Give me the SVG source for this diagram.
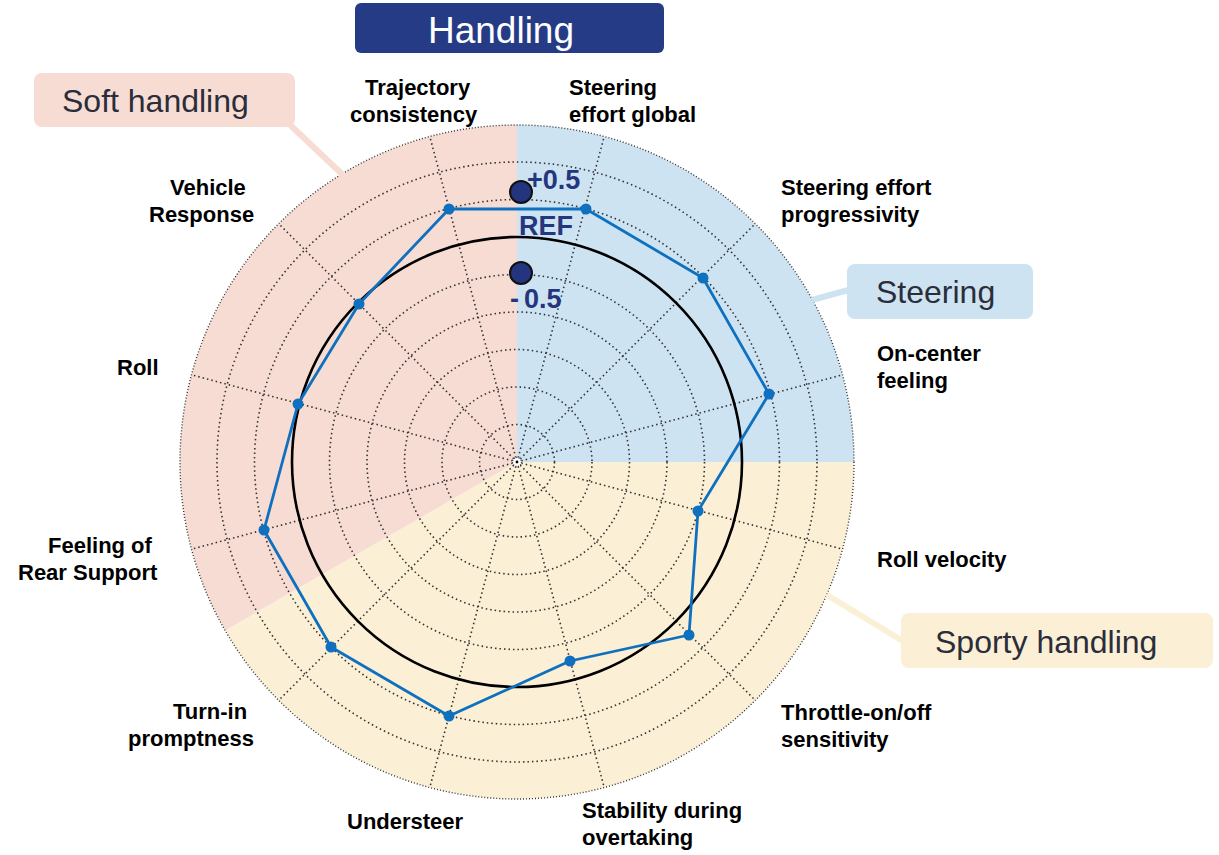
<svg xmlns="http://www.w3.org/2000/svg" width="1219" height="855" viewBox="0 0 1219 855">
<style>
.lbl{font-family:"Liberation Sans",Arial,sans-serif;font-weight:bold;font-size:22px;fill:#000}
.tag{font-family:"Liberation Sans",Arial,sans-serif;font-size:32px;fill:#2B2D3A}
.grid{fill:none;stroke:#333;stroke-width:1.6;stroke-dasharray:1.5 3}
.outer{fill:none;stroke:#333;stroke-width:1.4;stroke-dasharray:1 2}
.val{font-family:"Liberation Sans",Arial,sans-serif;font-weight:bold;font-size:27px;fill:#25367F}
.mk{fill:#0E70BE}
.ref{fill:#24357F;stroke:#111;stroke-width:2}
</style>
<rect width="1219" height="855" fill="#fff"/>
<g id="sectors">
<path d="M517,462 L517,125 A337,337 0 0 1 854,462 Z" fill="#CDE3F2"/>
<path d="M517,462 L854,462 A337,337 0 0 1 225.2,630.5 Z" fill="#FBEFD5"/>
<path d="M517,462 L225.2,630.5 A337,337 0 0 1 517,125 Z" fill="#F7DCD3"/>
</g>
<g id="grid">
<circle class="grid" cx="517" cy="462" r="37.5"/>
<circle class="grid" cx="517" cy="462" r="75"/>
<circle class="grid" cx="517" cy="462" r="112.5"/>
<circle class="grid" cx="517" cy="462" r="150"/>
<circle class="grid" cx="517" cy="462" r="187.5"/>
<circle class="grid" cx="517" cy="462" r="225"/>
<circle class="grid" cx="517" cy="462" r="262.5"/>
<circle class="grid" cx="517" cy="462" r="300"/>
<circle class="outer" cx="517" cy="462" r="337"/>
<g class="grid">
<line x1="517" y1="462" x2="604.2" y2="136.5"/>
<line x1="517" y1="462" x2="755.3" y2="223.7"/>
<line x1="517" y1="462" x2="842.5" y2="374.8"/>
<line x1="517" y1="462" x2="842.5" y2="549.2"/>
<line x1="517" y1="462" x2="755.3" y2="700.3"/>
<line x1="517" y1="462" x2="604.2" y2="787.5"/>
<line x1="517" y1="462" x2="429.8" y2="787.5"/>
<line x1="517" y1="462" x2="278.7" y2="700.3"/>
<line x1="517" y1="462" x2="191.5" y2="549.2"/>
<line x1="517" y1="462" x2="191.5" y2="374.8"/>
<line x1="517" y1="462" x2="278.7" y2="223.7"/>
<line x1="517" y1="462" x2="429.8" y2="136.5"/>
</g>
<circle cx="517" cy="462" r="4.5" fill="#fff" stroke="#333" stroke-width="1.2" stroke-dasharray="1 1.5"/>
<circle cx="517" cy="462" r="1.4" fill="#000"/>
</g>
<circle id="ref-circle" cx="517" cy="462" r="225" fill="none" stroke="#000" stroke-width="2.6"/>
<g id="connectors" stroke-width="6" fill="none">
<line x1="286" y1="121" x2="343" y2="175" stroke="#F7DCD3"/>
<line x1="852" y1="289" x2="812" y2="300" stroke="#CDE3F2"/>
<line x1="906" y1="643" x2="827" y2="595" stroke="#FBEFD5"/>
</g>
<g id="title">
<rect x="355" y="3" width="309" height="50" rx="6" fill="#263B86"/>
<text x="501" y="43" font-family="Liberation Sans, Arial, sans-serif" font-size="37" fill="#fff" text-anchor="middle">Handling</text>
</g>
<g id="soft-handling">
<rect x="34" y="73" width="261" height="54" rx="8" fill="#F7DCD3"/>
<text class="tag" x="62" y="112">Soft handling</text>
</g>
<g id="steering">
<rect x="847" y="264" width="186" height="55" rx="8" fill="#CDE3F2"/>
<text class="tag" x="876" y="303">Steering</text>
</g>
<g id="sporty-handling">
<rect x="901" y="613" width="312" height="55" rx="8" fill="#FBEFD5"/>
<text class="tag" x="935" y="653">Sporty handling</text>
</g>
<g id="data">
<polygon points="586,209 703,278 769,394 698,511 689,635 570,661 449,716 331,647 264,530 298,404 359,304 449,209" fill="none" stroke="#0E70BE" stroke-width="2.8" stroke-linejoin="round"/>
<circle class="mk" cx="586" cy="209" r="5.5"/>
<circle class="mk" cx="703" cy="278" r="5.5"/>
<circle class="mk" cx="769" cy="394" r="5.5"/>
<circle class="mk" cx="698" cy="511" r="5.5"/>
<circle class="mk" cx="689" cy="635" r="5.5"/>
<circle class="mk" cx="570" cy="661" r="5.5"/>
<circle class="mk" cx="449" cy="716" r="5.5"/>
<circle class="mk" cx="331" cy="647" r="5.5"/>
<circle class="mk" cx="264" cy="530" r="5.5"/>
<circle class="mk" cx="298" cy="404" r="5.5"/>
<circle class="mk" cx="359" cy="304" r="5.5"/>
<circle class="mk" cx="449" cy="209" r="5.5"/>
</g>
<g id="scale">
<circle class="ref" cx="521" cy="192" r="11"/>
<circle class="ref" cx="521" cy="273" r="11"/>
<text class="val" x="527" y="189">+0.5</text>
<text class="val" x="519" y="235">REF</text>
<text class="val" x="510" y="308">-<tspan dx="5">0.5</tspan></text>
</g>
<g id="labels">
<text class="lbl" x="365" y="95">Trajectory</text>
<text class="lbl" x="350" y="122">consistency</text>
<text class="lbl" x="569" y="95">Steering</text>
<text class="lbl" x="569" y="122">effort global</text>
<text class="lbl" x="781" y="195">Steering effort</text>
<text class="lbl" x="781" y="222">progressivity</text>
<text class="lbl" x="877" y="361">On-center</text>
<text class="lbl" x="877" y="388">feeling</text>
<text class="lbl" x="877" y="567">Roll velocity</text>
<text class="lbl" x="781" y="720">Throttle-on/off</text>
<text class="lbl" x="781" y="747">sensitivity</text>
<text class="lbl" x="582" y="818">Stability during</text>
<text class="lbl" x="582" y="845">overtaking</text>
<text class="lbl" x="347" y="829">Understeer</text>
<text class="lbl" x="173" y="719">Turn-in</text>
<text class="lbl" x="128" y="746">promptness</text>
<text class="lbl" x="48" y="553">Feeling of</text>
<text class="lbl" x="18" y="580">Rear Support</text>
<text class="lbl" x="117" y="375">Roll</text>
<text class="lbl" x="170" y="195">Vehicle</text>
<text class="lbl" x="149" y="222">Response</text>
</g>
</svg>
